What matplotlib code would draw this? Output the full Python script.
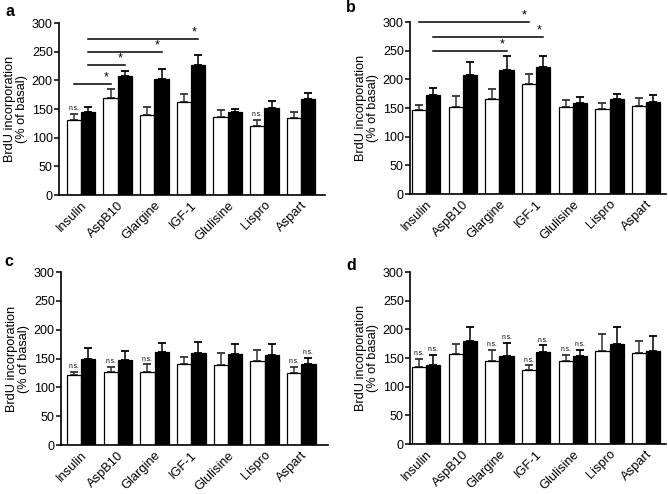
"""
    BrdU incorporation, 4 panel bar chart
"""
import matplotlib
matplotlib.use("Agg")
import matplotlib.pyplot as plt
import numpy as np

plt.rcParams['font.family'] = ['Liberation Sans', 'DejaVu Sans']

# data
groups = ["Insulin", "AspB10", "Glargine", "IGF-1", "Glulisine", "Lispro", "Aspart"]

a_white = [130, 169, 140, 162, 136, 121, 135]
a_white_err = [12, 16, 13, 14, 13, 10, 10]
a_black = [144, 207, 203, 226, 144, 152, 168]
a_black_err = [9, 10, 17, 19, 6, 12, 10]

b_white = [147, 152, 166, 191, 151, 149, 154]
b_white_err = [9, 19, 17, 18, 13, 9, 13]
b_black = [173, 208, 217, 222, 159, 165, 160]
b_black_err = [12, 22, 23, 19, 10, 10, 12]

c_white = [121, 126, 126, 141, 138, 146, 124]
c_white_err = [6, 10, 14, 12, 21, 18, 12]
c_black = [149, 148, 161, 159, 158, 156, 141]
c_black_err = [20, 15, 16, 19, 18, 20, 10]

d_white = [135, 157, 145, 129, 144, 163, 158]
d_white_err = [13, 18, 19, 8, 12, 28, 22]
d_black = [137, 180, 154, 160, 153, 175, 163]
d_black_err = [19, 24, 22, 12, 11, 29, 25]

# n.s. marks: indices of groups
a_ns_white, a_ns_black = [0, 5], []
b_ns_white, b_ns_black = [], []
c_ns_white, c_ns_black = [0, 1, 2, 6], [6]
d_ns_white, d_ns_black = [0, 2, 3, 4], [0, 2, 3, 4]

# significance brackets: (group1, bar1, group2, bar2, height)
a_sig = [(0, 0, 1, 0, 194), (0, 1, 1, 1, 226), (0, 1, 2, 1, 249), (0, 1, 3, 1, 272)]
b_sig = [(0, 0, 3, 0, 300), (0, 1, 3, 1, 274), (0, 1, 2, 1, 249)]

W, H = 668, 494
fig = plt.figure(figsize=(W / 100, H / 100), dpi=100)

bw = 0.39


def make_panel(rect_px, xlim, letter, letter_xy, white, werr, black, berr,
               ns_w, ns_b, sig):
    x0, x1, y0, y1 = rect_px  # axis left, right, bottom(0), top(300) in px
    ax = fig.add_axes([x0 / W, 1 - y0 / H, (x1 - x0) / W, (y0 - y1) / H])
    x = np.arange(len(groups))
    xw = x - bw / 2
    xb = x + bw / 2
    ax.bar(xw, white, bw, color='white', edgecolor='black', linewidth=0.9, zorder=2)
    ax.bar(xb, black, bw, color='black', edgecolor='black', linewidth=0.9, zorder=2)
    ax.errorbar(xw, white, yerr=[np.zeros(len(white)), werr], fmt='none',
                ecolor='#333333', elinewidth=1.1, capsize=3.2, capthick=1.3, zorder=1)
    ax.errorbar(xb, black, yerr=[np.zeros(len(black)), berr], fmt='none',
                ecolor='black', elinewidth=1.1, capsize=3.2, capthick=1.3, zorder=1)

    for i in ns_w:
        ax.text(xw[i], white[i] + werr[i] + 3, "n.s.", ha='center', va='bottom', fontsize=4.8)
    for i in ns_b:
        ax.text(xb[i], black[i] + berr[i] + 3, "n.s.", ha='center', va='bottom', fontsize=4.8)

    for g1, s1, g2, s2, h in sig:
        xa = g1 + (s1 - 0.5) * bw
        xe = g2 + (s2 - 0.5) * bw
        ax.plot([xa, xe], [h, h], color='black', linewidth=1.1, clip_on=False)
        ax.text(xe - 0.12, h + 1, "*", ha='center', va='bottom', fontsize=9)

    ax.set_xlim(*xlim)
    ax.set_ylim(0, 300)
    ax.set_yticks(np.arange(0, 301, 50))
    ax.set_xticks(x)
    ax.set_xticklabels(groups, rotation=45, ha='right', va='top',
                       rotation_mode='anchor', fontsize=9.3)
    ax.tick_params(axis='x', length=0, pad=3)
    ax.tick_params(axis='y', length=3.5, width=1.1, labelsize=9, pad=1)
    for s in ['top', 'right']:
        ax.spines[s].set_visible(False)
    for s in ['left', 'bottom']:
        ax.spines[s].set_linewidth(1.2)
    ax.set_ylabel("BrdU incorporation\n(% of basal)", fontsize=9.2, linespacing=1.05)
    ax.yaxis.set_label_coords(-31 / (x1 - x0), 0.5)
    fig.text(letter_xy[0] / W, 1 - letter_xy[1] / H, letter, fontsize=11.5,
             fontweight='bold', ha='left', va='center')
    return ax


make_panel((59, 325, 195, 23), (-0.60, 6.65), "a", (5, 11),
           a_white, a_white_err, a_black, a_black_err, a_ns_white, a_ns_black, a_sig)
make_panel((410, 666, 194, 22), (-0.44, 6.54), "b", (346, 8),
           b_white, b_white_err, b_black, b_black_err, b_ns_white, b_ns_black, b_sig)
make_panel((61, 328, 445, 272), (-0.55, 6.73), "c", (4, 261),
           c_white, c_white_err, c_black, c_black_err, c_ns_white, c_ns_black, [])
make_panel((410, 666, 444, 272), (-0.44, 6.54), "d", (346, 266),
           d_white, d_white_err, d_black, d_black_err, d_ns_white, d_ns_black, [])

plt.savefig("out.png", dpi=100)
